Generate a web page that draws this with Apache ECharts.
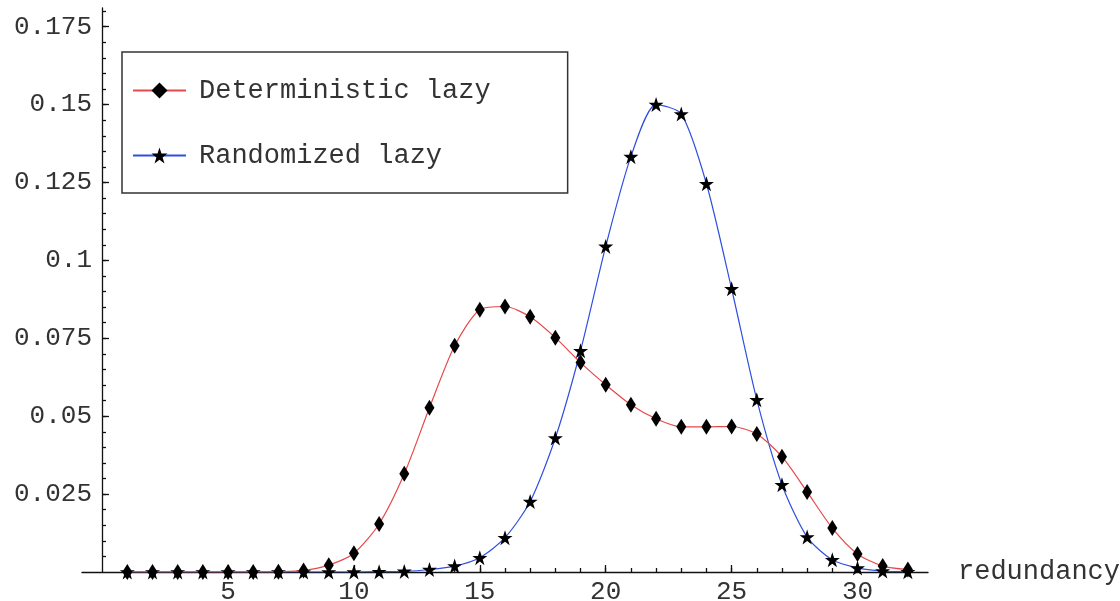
<!DOCTYPE html>
<html>
<head>
<meta charset="utf-8">
<script src="https://cdn.jsdelivr.net/npm/echarts@6/dist/echarts.min.js"></script>
<style>html,body{margin:0;padding:0;background:#fff}#c{width:1120px;height:601px}</style>
</head>
<body>
<div id="c"></div>
<script>
const redundancy = [1,2,3,4,5,6,7,8,9,10,11,12,13,14,15,16,17,18,19,20,21,22,23,24,25,26,27,28,29,30,31,32];
const deterministicLazy = [0,0,0,0,0,0,0.0001,0.0005,0.0022,0.006,0.0154,0.0315,0.0527,0.0726,0.0842,0.0852,0.0819,0.0752,0.0672,0.0601,0.0537,0.0492,0.0466,0.0466,0.0467,0.0443,0.037,0.0257,0.0141,0.0058,0.0019,0.0008];
const randomizedLazy = [0,0,0,0,0,0,0,0,0,0,0.0001,0.0002,0.0008,0.0019,0.0046,0.011,0.0226,0.043,0.071,0.1045,0.1333,0.150,0.147,0.1246,0.0909,0.0553,0.028,0.0112,0.0039,0.0013,0.0003,0.0001];
const seriesNames = ['Deterministic lazy', 'Randomized lazy'];
const xMajorTicks = [5,10,15,20,25,30];
const xMinorTicks = [1,2,3,4,5,6,7,8,9,10,11,12,13,14,15,16,17,18,19,20,21,22,23,24,25,26,27,28,29,30,31,32];
const yMajorTicks = [0.025,0.05,0.075,0.1,0.125,0.15,0.175];
const yMinorTicks = [0.005,0.01,0.015,0.02,0.025,0.03,0.035,0.04,0.045,0.05,0.055,0.06,0.065,0.07,0.075,0.08,0.085,0.09,0.095,0.1,0.105,0.11,0.115,0.12,0.125,0.13,0.135,0.14,0.145,0.15,0.155,0.16,0.165,0.17,0.175,0.18];
const xAxisName = 'redundancy';

const FONT = '"Liberation Mono", "DejaVu Sans Mono", monospace';
const TXT = '#333';
const STAR = 'path://M50,0 L61.8,35.4 L98.5,35.4 L68.8,57.3 L80.2,92.7 L50,70.8 L19.8,92.7 L31.2,57.3 L1.5,35.4 L38.2,35.4 Z';

const chart = echarts.init(document.getElementById('c'), null, {renderer: 'canvas'});
const axisLineStyle = {color: '#111', width: 1.3};
chart.setOption({
  animation: false,
  backgroundColor: '#fff',
  grid: {left: 82, right: 192, top: 8, bottom: 29, containLabel: false, outerBoundsMode: 'none'},
  xAxis: [{
    type: 'value', min: -0.8, max: 32.8,
    name: xAxisName, nameLocation: 'end', nameGap: 30,
    nameTextStyle: {fontFamily: FONT, fontSize: 27, color: TXT, verticalAlign: 'middle'},
    axisLine: {show: true, onZero: false, lineStyle: axisLineStyle},
    axisTick: {show: true, inside: true, length: 7, customValues: xMajorTicks, lineStyle: axisLineStyle},
    axisLabel: {show: true, customValues: xMajorTicks, margin: 7, fontFamily: FONT, fontSize: 26, color: TXT},
    splitLine: {show: false}
  }, {
    type: 'value', min: -0.8, max: 32.8, position: 'bottom', offset: 0,
    axisLine: {show: false, onZero: false},
    axisTick: {show: true, inside: true, length: 4, customValues: xMinorTicks, lineStyle: axisLineStyle},
    axisLabel: {show: false},
    splitLine: {show: false}
  }],
  yAxis: [{
    type: 'value', min: 0, max: 0.181, position: 'left', offset: -20,
    axisLine: {show: true, onZero: false, lineStyle: axisLineStyle},
    axisTick: {show: true, inside: true, length: 7, customValues: yMajorTicks, lineStyle: axisLineStyle},
    axisLabel: {show: true, customValues: yMajorTicks, margin: 10, fontFamily: FONT, fontSize: 26, color: TXT},
    splitLine: {show: false}
  }, {
    type: 'value', min: 0, max: 0.181, position: 'left', offset: -20,
    axisLine: {show: false, onZero: false},
    axisTick: {show: true, inside: true, length: 4, customValues: yMinorTicks, lineStyle: axisLineStyle},
    axisLabel: {show: false},
    splitLine: {show: false}
  }],
  legend: {
    orient: 'vertical', left: 122, top: 52,
    padding: [25, 77, 24, 10],
    itemGap: 38, itemWidth: 53, itemHeight: 20,
    backgroundColor: '#fff', borderColor: '#333', borderWidth: 1.5,
    textStyle: {fontFamily: FONT, fontSize: 27, color: TXT, padding: [0, 0, 0, 8]},
    data: seriesNames
  },
  series: [{
    name: seriesNames[0], type: 'line',
    data: redundancy.map((x, i) => [x, deterministicLazy[i]]),
    smooth: 0.25,
    symbol: 'diamond', symbolSize: [10, 16],
    lineStyle: {color: '#e84848', width: 1.2},
    itemStyle: {color: '#000'},
    z: 3
  }, {
    name: seriesNames[1], type: 'line',
    data: redundancy.map((x, i) => [x, randomizedLazy[i]]),
    smooth: 0.25,
    symbol: STAR, symbolSize: 15,
    lineStyle: {color: '#2f4fe0', width: 1.2},
    itemStyle: {color: '#000'},
    z: 2
  }]
});
</script>
</body>
</html>
